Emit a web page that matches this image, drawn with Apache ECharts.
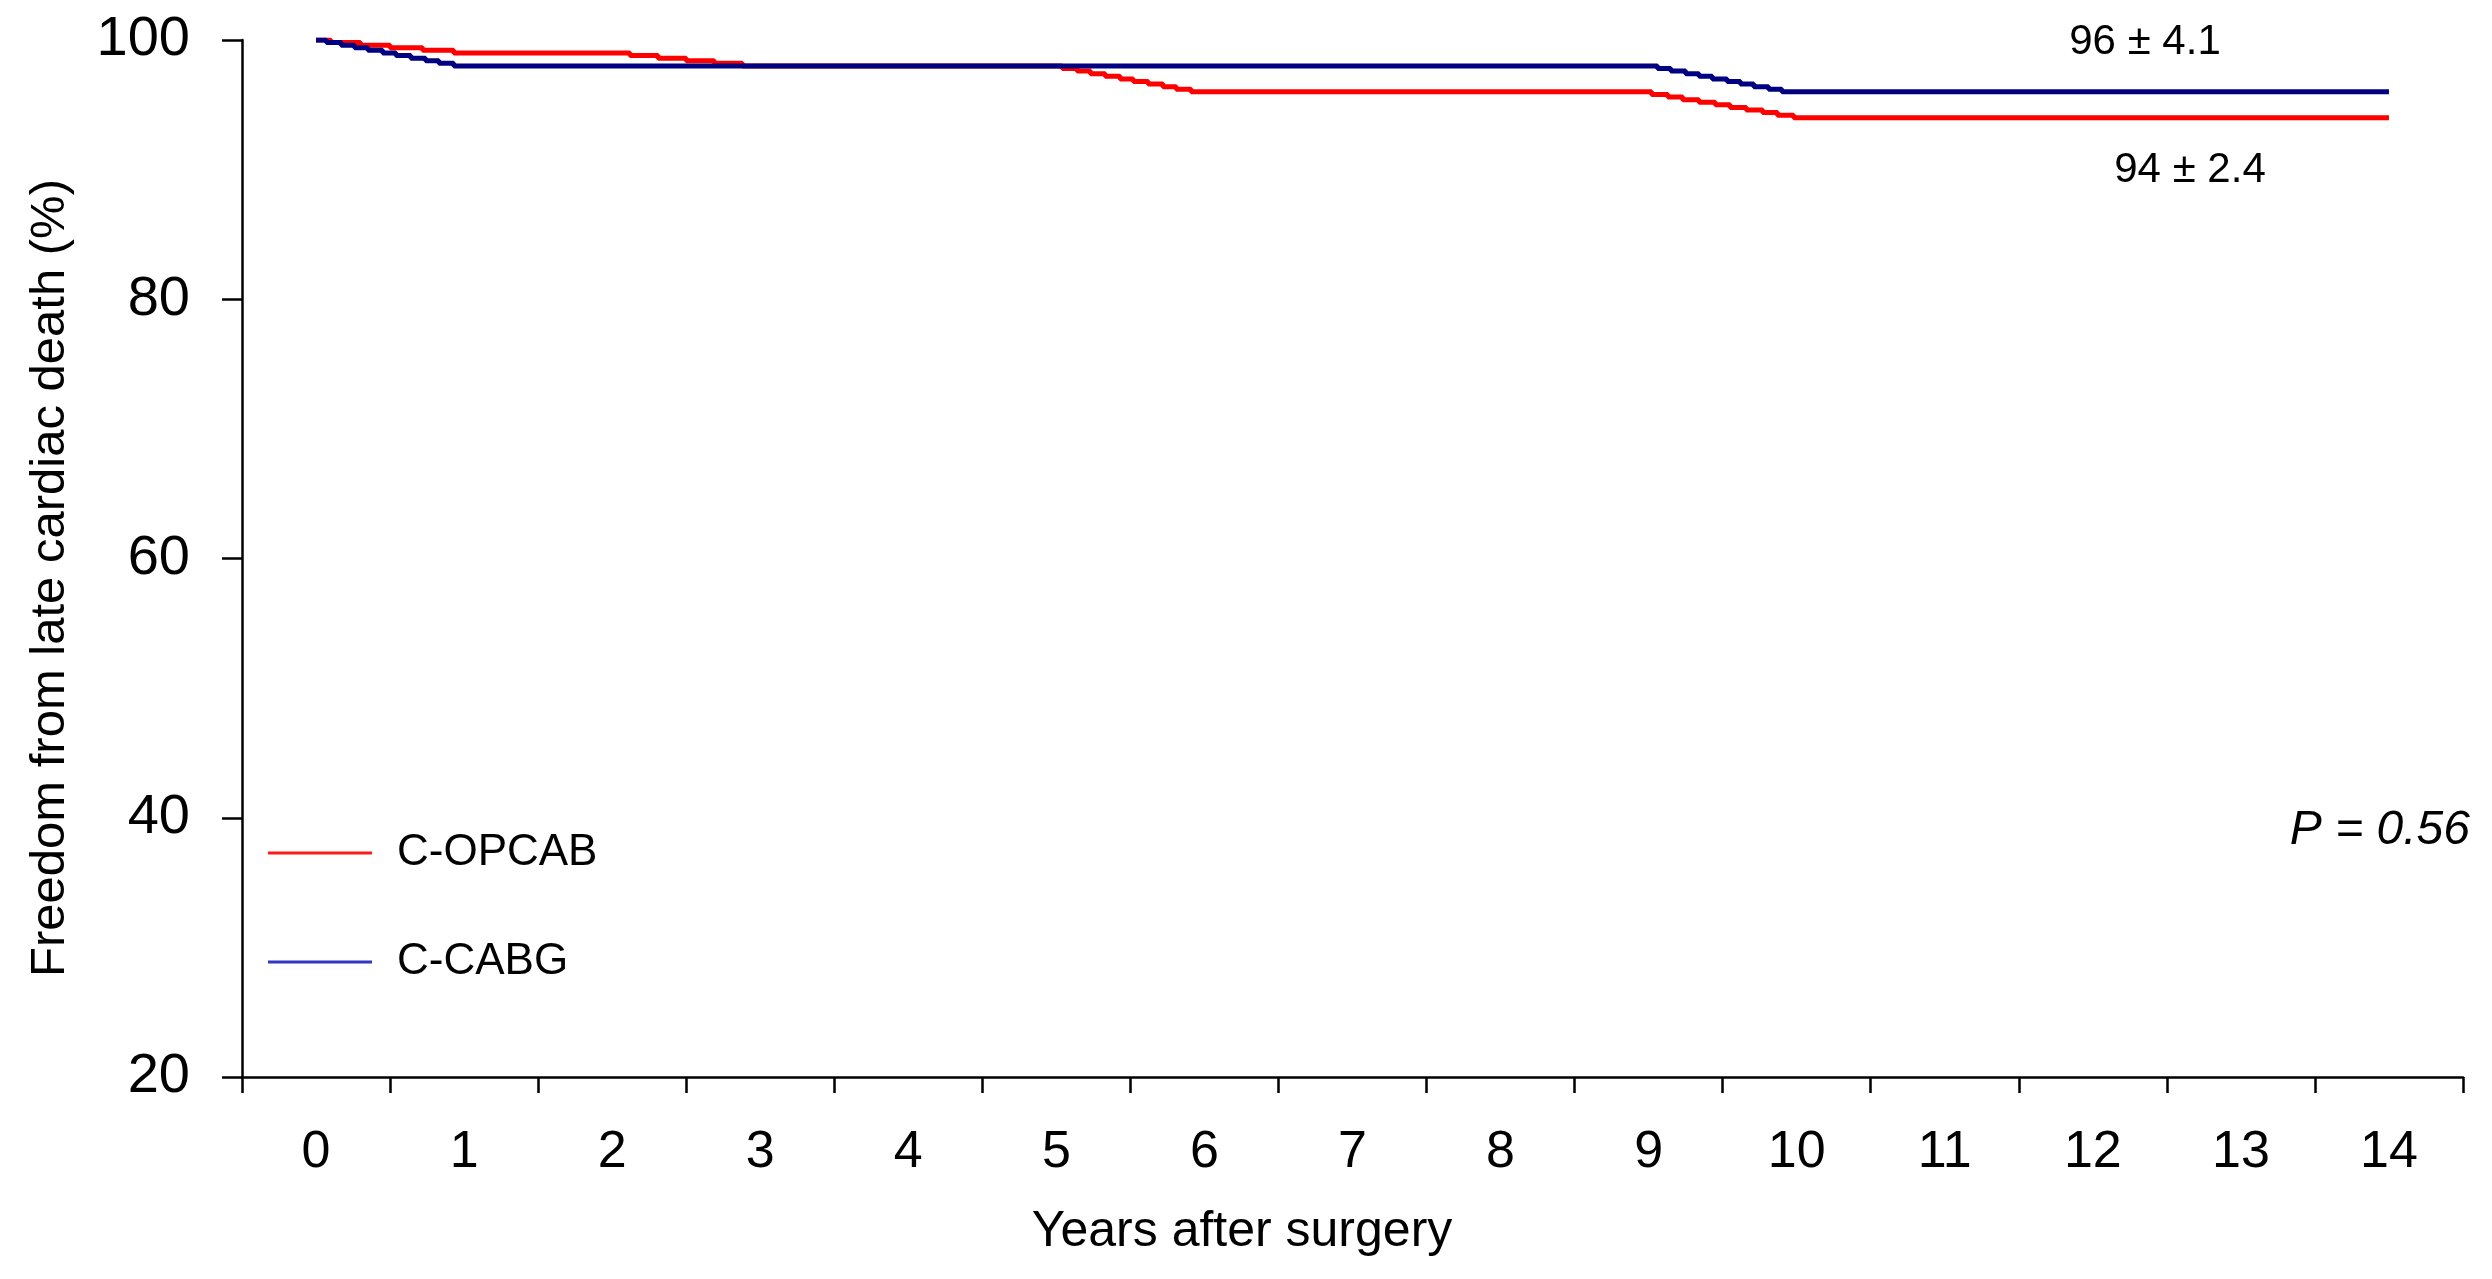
<!DOCTYPE html>
<html>
<head>
<meta charset="utf-8">
<script src="https://cdn.jsdelivr.net/npm/echarts@6/dist/echarts.min.js"></script>
<style>
html,body{margin:0;padding:0;background:#ffffff;}
#chart{width:2492px;height:1279px;}
</style>
</head>
<body>
<div id="chart"></div>
<script>
// ---- data ----
const yearLabels = ['0','1','2','3','4','5','6','7','8','9','10','11','12','13','14'];
const seriesNames = ['C-OPCAB', 'C-CABG'];

// Kaplan-Meier steps (years, % free of late cardiac death)
const opcabTime = [0, 0.1, 0.3, 0.5, 0.72, 0.93,
  2.12, 2.31, 2.5, 2.69, 2.88,
  5.04, 5.14, 5.23, 5.33, 5.43, 5.52, 5.62, 5.72, 5.81, 5.91,
  9.02, 9.13, 9.23, 9.34, 9.45, 9.55, 9.66, 9.77, 9.87, 9.98,
  14];
const opcabSurv = [100, 99.8, 99.6, 99.4, 99.2, 99.0,
  98.8, 98.6, 98.4, 98.2, 98.0,
  97.8, 97.6, 97.4, 97.2, 97.0, 96.8, 96.6, 96.4, 96.2, 96.0,
  95.8, 95.6, 95.4, 95.2, 95.0, 94.8, 94.6, 94.4, 94.2, 94.0,
  94.0];

const cabgTime = [0, 0.07, 0.17, 0.26, 0.35, 0.45, 0.54, 0.64, 0.74, 0.83, 0.93,
  9.06, 9.15, 9.25, 9.34, 9.43, 9.53, 9.62, 9.71, 9.81, 9.9,
  14];
const cabgSurv = [100, 99.8, 99.6, 99.4, 99.2, 99.0, 98.8, 98.6, 98.4, 98.2, 98.0,
  97.8, 97.6, 97.4, 97.2, 97.0, 96.8, 96.6, 96.4, 96.2, 96.0,
  96.0];

const endLabels = ['96 ± 4.1', '94 ± 2.4'];
const pValueText = 'P = 0.56';
const yAxisTitle = 'Freedom from late cardiac death (%)';
const xAxisTitle = 'Years after surgery';

// ---- chart ----
const FONT = 'Arial, "Liberation Sans", Helvetica, sans-serif';
const chart = echarts.init(document.getElementById('chart'), null, {renderer: 'canvas'});

const toPairs = (t, s) => t.map((v, i) => [v, s[i]]);

const option = {
  backgroundColor: '#ffffff',
  animation: false,
  grid: {left: 242, right: 29, top: 40, bottom: 202, containLabel: false},
  xAxis: [
    {
      type: 'category',
      data: yearLabels,
      boundaryGap: true,
      axisLine: {show: true, onZero: false, lineStyle: {color: '#000', width: 2.5}},
      axisTick: {show: true, length: 16, lineStyle: {color: '#000', width: 2.5}},
      axisLabel: {interval: 0, margin: 50, fontSize: 52, color: '#000', fontFamily: FONT},
      splitLine: {show: false}
    },
    {
      type: 'value',
      min: -0.5,
      max: 14.5,
      show: false
    }
  ],
  yAxis: {
    type: 'value',
    min: 20,
    max: 100,
    interval: 20,
    axisLine: {show: true, onZero: false, lineStyle: {color: '#000', width: 2.5}},
    axisTick: {show: true, length: 20, lineStyle: {color: '#000', width: 2.5}},
    axisLabel: {margin: 52, fontSize: 56, color: '#000', fontFamily: FONT},
    splitLine: {show: false}
  },
  legend: {
    orient: 'vertical',
    left: 268,
    top: 828,
    padding: 0,
    itemWidth: 104,
    itemHeight: 3,
    itemGap: 59,
    selectedMode: false,
    textStyle: {fontSize: 44, color: '#000', fontFamily: FONT, lineHeight: 50, padding: [0, 0, 0, 20]},
    data: [
      {name: seriesNames[0], icon: 'rect', itemStyle: {color: '#ff1a1a'}},
      {name: seriesNames[1], icon: 'rect', itemStyle: {color: '#3333c4'}}
    ]
  },
  series: [
    {
      name: seriesNames[0],
      type: 'line',
      xAxisIndex: 1,
      step: 'end',
      symbol: 'none',
      data: toPairs(opcabTime, opcabSurv),
      lineStyle: {color: '#ff0000', width: 5},
      itemStyle: {color: '#ff0000'},
      z: 2
    },
    {
      name: seriesNames[1],
      type: 'line',
      xAxisIndex: 1,
      step: 'end',
      symbol: 'none',
      data: toPairs(cabgTime, cabgSurv),
      lineStyle: {color: '#000080', width: 5},
      itemStyle: {color: '#000080'},
      z: 3
    }
  ],
  graphic: [
    {
      type: 'text', x: 50, y: 578, rotation: Math.PI / 2,
      style: {text: yAxisTitle, fontSize: 49, fill: '#000', fontFamily: FONT, align: 'center', verticalAlign: 'middle'}
    },
    {
      type: 'text', x: 1242, y: 1232,
      style: {text: xAxisTitle, fontSize: 50, fill: '#000', fontFamily: FONT, align: 'center', verticalAlign: 'middle'}
    },
    {
      type: 'text', x: 2145, y: 42,
      style: {text: endLabels[0], fontSize: 42, fill: '#000', fontFamily: FONT, align: 'center', verticalAlign: 'middle'}
    },
    {
      type: 'text', x: 2190, y: 170,
      style: {text: endLabels[1], fontSize: 42, fill: '#000', fontFamily: FONT, align: 'center', verticalAlign: 'middle'}
    },
    {
      type: 'text', x: 2470, y: 831,
      style: {text: pValueText, fontSize: 48, fontStyle: 'italic', fill: '#000', fontFamily: FONT, align: 'right', verticalAlign: 'middle'}
    }
  ]
};
chart.setOption(option);
</script>
</body>
</html>
